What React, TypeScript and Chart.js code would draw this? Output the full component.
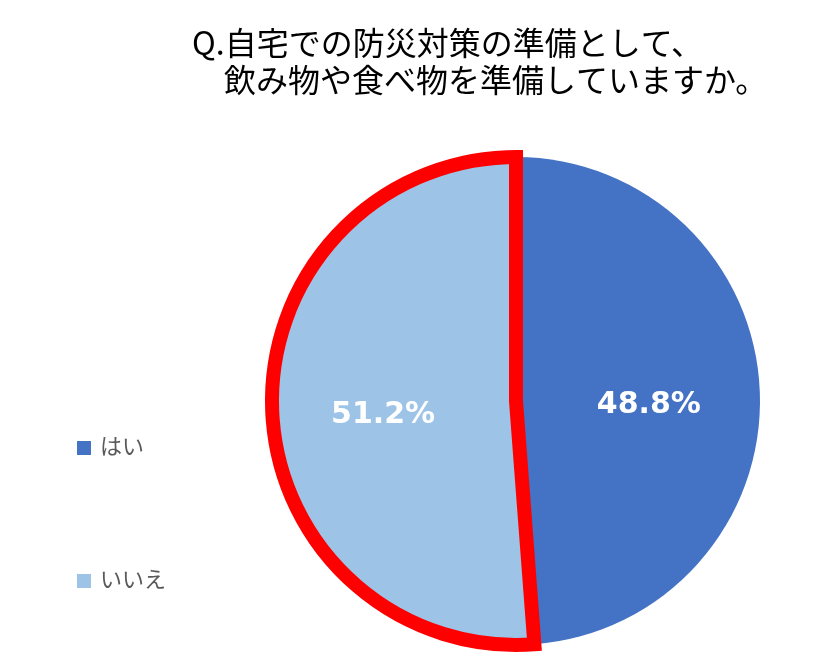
import React, { useEffect, useRef } from "react";
import { Chart, registerables } from "chart.js";

Chart.register(...registerables);

const TITLE_LINES = ["Q.自宅での防災対策の準備として、", "　飲み物や食べ物を準備していますか。"];
const CATEGORIES = ["はい", "いいえ"];
const VALUES = [48.8, 51.2];
const COLORS = ["#4472C4", "#9DC3E6"];
const BORDER_COLORS = ["rgba(0,0,0,0)", "#FF0000"];
const BORDER_WIDTHS = [0, 14];

const overlayPlugin = {
  id: "overlay",
  afterDatasetsDraw(chart: any) {
    const ctx = chart.ctx;
    const meta = chart.getDatasetMeta(0);
    ctx.save();
    // data labels
    ctx.font = "bold 30px 'DejaVu Sans'";
    ctx.fillStyle = "#FFFFFF";
    ctx.textAlign = "center";
    ctx.textBaseline = "middle";
    meta.data.forEach((arc: any, i: number) => {
      const { x, y, startAngle, endAngle, outerRadius } = arc.getProps(
        ["x", "y", "startAngle", "endAngle", "outerRadius"],
        true
      );
      const mid = (startAngle + endAngle) / 2;
      const r = outerRadius * 0.545;
      const v = chart.data.datasets[0].data[i];
      ctx.fillText(v.toFixed(1) + "%", x + Math.cos(mid) * r, y + Math.sin(mid) * r + 9);
    });
    // title
    ctx.font = "32px 'Noto Sans CJK JP'";
    ctx.fillStyle = "#000000";
    ctx.textAlign = "left";
    ctx.textBaseline = "alphabetic";
    ctx.fillText(TITLE_LINES[0], 192, 55);
    ctx.fillText(TITLE_LINES[1], 192, 92);
    // legend
    const legendY = [448, 581];
    ctx.font = "22px 'Noto Sans CJK JP'";
    ctx.textBaseline = "middle";
    (chart.data.labels as string[]).forEach((lab: string, i: number) => {
      const cy = legendY[i];
      ctx.fillStyle = chart.data.datasets[0].backgroundColor[i];
      ctx.fillRect(77, cy - 7, 14, 14);
      ctx.fillStyle = "#595959";
      ctx.fillText(lab, 100, cy - 2);
    });
    ctx.restore();
  },
};

export default function App() {
  const ref = useRef<HTMLCanvasElement | null>(null);
  useEffect(() => {
    if (!ref.current) return;
    const chart = new Chart(ref.current, {
      type: "pie",
      data: {
        labels: CATEGORIES,
        datasets: [
          {
            data: VALUES,
            backgroundColor: COLORS,
            borderColor: BORDER_COLORS,
            borderWidth: BORDER_WIDTHS,
            borderAlign: "center",
            borderJoinStyle: "miter",
          } as any,
        ],
      },
      options: {
        responsive: false,
        animation: false,
        devicePixelRatio: 1,
        layout: { padding: { left: 265, top: 150, right: 73, bottom: 14 } },
        plugins: {
          legend: { display: false },
          tooltip: { enabled: false },
          title: { display: false },
        },
      },
      plugins: [overlayPlugin],
    });
    return () => chart.destroy();
  }, []);
  return (
    <div style={{ position: "fixed", left: 0, top: 0, width: 840, height: 666, background: "#fff" }}>
      <canvas ref={ref} width={840} height={666} />
    </div>
  );
}
